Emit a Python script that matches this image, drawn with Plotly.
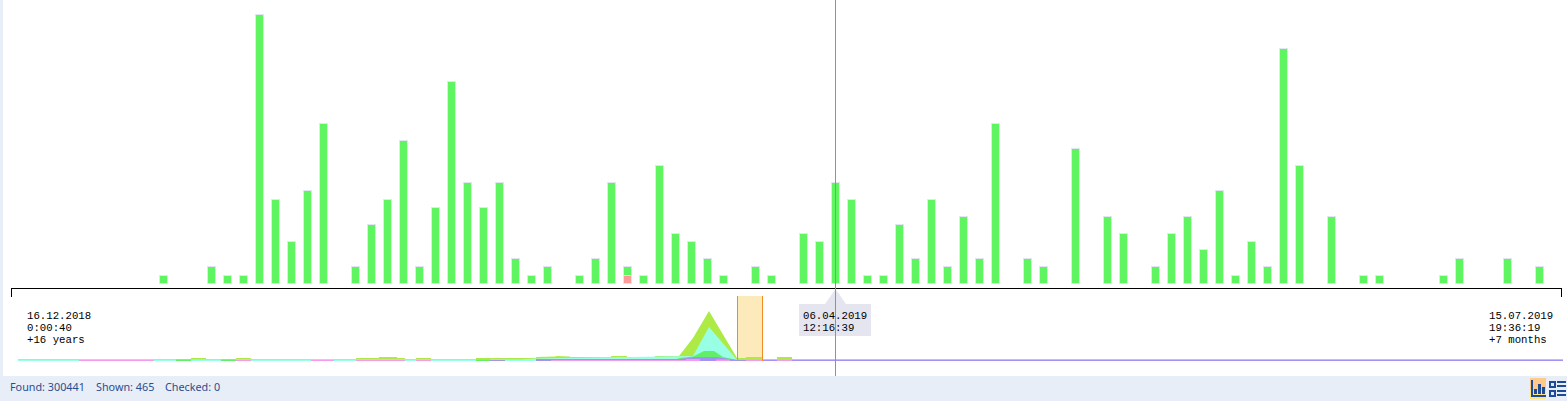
import plotly.graph_objects as go

W, H = 1567, 401

# Main bars: slot number along the time axis and event counts
bar_slots = [10, 13, 14, 15, 16, 17, 18, 19, 20, 22, 23, 24, 25, 26, 27, 28, 29, 30, 31, 32, 33, 34,
             36, 37, 38, 39, 40, 41, 42, 43, 44, 45, 47, 48, 50, 51, 52, 53, 54, 55, 56, 57, 58, 59,
             60, 61, 62, 64, 65, 67, 69, 70, 72, 73, 74, 75, 76, 77, 78, 79, 80, 81, 83, 85, 86, 90,
             91, 94, 96]
green_counts = [1, 2, 1, 1, 32, 10, 5, 11, 19, 2, 7, 10, 17, 2, 9, 24, 12, 9, 12, 3, 1, 2,
                1, 3, 12, 1, 1, 14, 6, 5, 3, 1, 2, 1, 6, 5, 12, 10, 1, 1, 7, 3, 10, 2,
                8, 3, 19, 3, 2, 16, 8, 6, 2, 6, 8, 4, 11, 1, 5, 2, 28, 14, 8, 1, 1, 1,
                3, 3, 2]
pink_slots = [39]
pink_counts = [1]

# Overview strip: position along the compressed timeline and layer heights
lime_pos = [18, 191, 191, 206, 206, 236, 236, 251, 251, 356, 356, 379, 379, 397, 397, 405, 405, 416, 416, 431,
            431, 476, 476, 520, 520, 536, 536, 547, 547, 556, 556, 562, 562, 570, 570, 581, 581, 588, 588, 611,
            611, 627, 627, 655, 655, 679, 693, 709, 737, 746, 746, 762, 762, 777, 777, 792, 792, 1563]
lime_val = [2, 2, 3, 3, 2, 2, 3, 3, 2, 2, 3, 3, 4, 4, 3, 3, 2, 2, 3, 3,
            2, 2, 3, 3, 3, 3, 4, 4, 4.5, 4.5, 5, 5, 4.5, 4.5, 4, 4, 4.5, 4.5, 4, 4,
            5, 5, 4, 4, 5, 5, 23, 50, 3, 3, 4, 4, 2, 2, 4, 4, 2, 2]
aqua_pos = [18, 520, 536, 580, 693, 709, 737, 738]
aqua_val = [1.5, 1.5, 2.5, 3, 5, 34, 2, 0]
green_pos = [176, 176, 191, 191, 221, 221, 236, 236, 476, 476, 490, 490, 670, 680, 693, 704, 714, 723, 737, 738]
green_val = [0, 1.5, 1.5, 0, 0, 1.5, 1.5, 0, 0, 1.5, 1.5, 0, 0, 3, 4.5, 10, 10, 4, 1, 0]
purple_pos = [490, 490, 505, 505, 536, 536, 680, 693, 716, 730, 737, 1563]
purple_val = [0, 1, 1, 0, 0, 2, 2, 4, 4, 2, 1, 1]
pink_pos = [79, 79, 154, 154, 236, 236, 251, 251, 311, 311, 334, 334, 356, 356, 405, 405, 416, 416, 431, 431,
            551, 551, 686, 686, 700, 700, 716, 716, 730, 730, 746, 746, 762, 762, 777, 777, 792, 792]
pink_val = [0, 1, 1, 0, 0, 1, 1, 0, 0, 1, 1, 0, 0, 1, 1, 0, 0, 1, 1, 0,
            0, 1, 1, 2, 2, 0, 0, 1.5, 1.5, 0, 0, 1, 1, 0, 0, 1, 1, 0]

left_labels = ["16.12.2018", "0:00:40", "+16 years"]
right_labels = ["15.07.2019", "19:36:19", "+7 months"]
cursor_labels = ["06.04.2019", "12:16:39"]
status_labels = ["Found: 300441", "Shown: 465", "Checked: 0"]


def px(x):
    return x / W


def py(y):
    return 1 - y / H


def rect(x0, y0, x1, y1, fill, layer="above", line=None):
    return dict(type="rect", xref="paper", yref="paper", x0=px(x0), x1=px(x1), y0=py(y1), y1=py(y0),
                fillcolor=fill, layer=layer, line=dict(width=0) if line is None else line)


def seg(x0, y0, x1, y1, color, width=1, layer="above"):
    return dict(type="line", xref="paper", yref="paper", x0=px(x0), x1=px(x1), y0=py(y0), y1=py(y1),
                line=dict(color=color, width=width), layer=layer)


fig = go.Figure()
fig.add_bar(x=pink_slots, y=pink_counts, marker=dict(color="#ff9a9a", line=dict(color="#e0e6f2", width=1)),
            width=0.53, xaxis="x", yaxis="y")
fig.add_bar(x=bar_slots, y=green_counts, marker=dict(color="#5ff560", line=dict(color="#e0e6f2", width=1)),
            width=0.53, xaxis="x", yaxis="y")
for xs, ys, c in [(lime_pos, lime_val, "#aeea46"), (aqua_pos, aqua_val, "#99ffe4"),
                  (green_pos, green_val, "#60f068"), (purple_pos, purple_val, "#a492f4"),
                  (pink_pos, pink_val, "#f59af0")]:
    fig.add_scatter(x=xs, y=ys, mode="lines", line=dict(width=0, color=c), fill="tozeroy",
                    fillcolor=c, xaxis="x2", yaxis="y2", hoverinfo="skip")

shapes = [
    rect(0, 0, 3, 376, "#e8eef8"),
    rect(0, 376, W, H, "#e8eef8"),
    # timeline bracket
    seg(11, 288.5, 1561, 288.5, "#000000"),
    seg(11.5, 288, 11.5, 297, "#000000"),
    seg(1561.5, 288, 1561.5, 297, "#000000"),
    # selected range
    rect(737, 296, 763, 361, "#fdeabb", layer="below"),
    seg(737.5, 296, 737.5, 361, "#f58a22"),
    seg(762.5, 296, 762.5, 361, "#f58a22"),
    # cursor tooltip
    rect(799, 304, 871, 336, "#e5e5ef"),
    dict(type="path", xref="paper", yref="paper", layer="above", fillcolor="#e5e5ef", line=dict(width=0),
         path=f"M {px(825)} {py(304)} L {px(835.5)} {py(289)} L {px(846)} {py(304)} Z"),
    # footer buttons
    rect(1530, 378, 1546, 390, "#ffc98a"),
    rect(1530, 390, 1546, 399, "#ffe680"),
    rect(1531, 380, 1533, 397, "#1f4a96"),
    rect(1531, 395, 1546, 397, "#1f4a96"),
    rect(1534, 389, 1537, 394, "#1f4a96"),
    rect(1538, 384, 1541, 394, "#1f4a96"),
    rect(1542, 387, 1545, 394, "#1f4a96"),
    rect(1549, 381, 1556, 388, "#1f4a96"),
    rect(1551, 383, 1554, 386, "#dfe8f6"),
    rect(1549, 390, 1556, 397, "#1f4a96"),
    rect(1551, 392, 1554, 395, "#dfe8f6"),
    rect(1557, 381, 1566, 383, "#1f4a96"),
    rect(1557, 385, 1566, 387, "#1f4a96"),
    rect(1557, 390, 1566, 392, "#1f4a96"),
    rect(1557, 394, 1566, 396, "#1f4a96"),
    # cursor
    seg(835.5, 0, 835.5, 376, "#9a9c4c"),
]

annotations = []


def mono(x, y, txt):
    annotations.append(dict(text=txt, xref="paper", yref="paper", x=px(x), y=py(y), xanchor="left", yanchor="middle",
                            showarrow=False, align="left", borderpad=0,
                            font=dict(family="Liberation Mono", size=10.7, color="#000000")))


for i, t in enumerate(left_labels):
    mono(26.3, 315.5 + 12 * i, t)
for i, t in enumerate(right_labels):
    mono(1488.3, 315.5 + 12 * i, t)
for i, t in enumerate(cursor_labels):
    mono(802.3, 315.5 + 12 * i, t)
for x, t in zip([9.3, 94.5, 163.5], status_labels):
    annotations.append(dict(text=t, xref="paper", yref="paper", x=px(x), y=py(386), xanchor="left", yanchor="middle",
                            showarrow=False, borderpad=0,
                            font=dict(family="Noto Sans", size=10.8, color="#2b4d8f")))

fig.update_layout(
    width=W, height=H, margin=dict(l=0, r=0, t=0, b=0), autosize=False,
    paper_bgcolor="#ffffff", plot_bgcolor="rgba(0,0,0,0)", showlegend=False, barmode="stack",
    bargap=0,
    xaxis=dict(domain=[0, 1], range=[-0.25, 97.6875], visible=False, fixedrange=True),
    yaxis=dict(domain=[py(284), 1], range=[0, 284 / 8.41], visible=False, fixedrange=True),
    xaxis2=dict(domain=[0, 1], range=[0, W], visible=False, fixedrange=True, anchor="y2"),
    yaxis2=dict(domain=[py(361), py(296)], range=[0, 65], visible=False, fixedrange=True, anchor="x2"),
    shapes=shapes, annotations=annotations,
)

fig.write_html("out.html", config={"displayModeBar": False},
               post_script="document.body.style.margin='0';document.body.style.overflow='hidden';")
